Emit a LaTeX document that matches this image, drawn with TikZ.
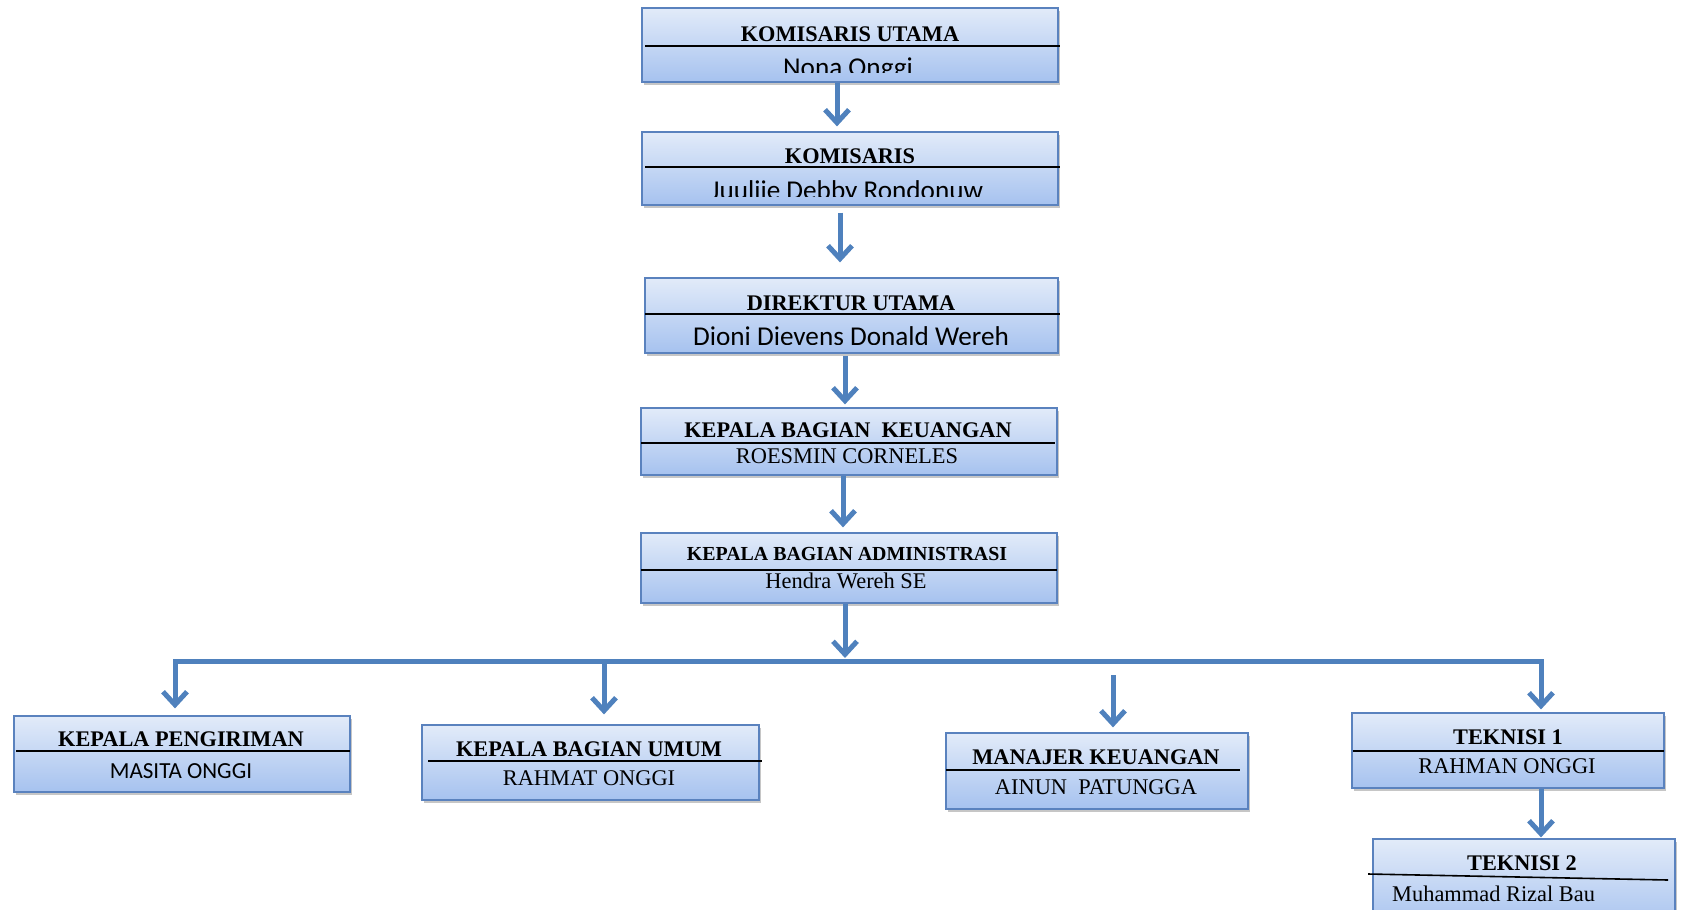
\documentclass[tikz,border=0pt]{standalone}
\usepackage{fontspec}
\setmainfont{Liberation Serif}
\newfontfamily\calibri{Carlito}
\usetikzlibrary{arrows.meta,fit,shadows}
\definecolor{garis}{HTML}{5A82BE}
\definecolor{atas}{HTML}{E2EBF9}
\definecolor{bawah}{HTML}{A6C2EF}
\definecolor{biru}{HTML}{4F81BD}
\tikzset{
	kotak/.style={draw=garis, line width=1.2pt, top color=atas, bottom color=bawah, inner sep=0pt,
		drop shadow={shadow xshift=1.5pt, shadow yshift=-3pt, fill=black!50, opacity=.45}},
	judul/.style={anchor=base, inner sep=0pt, font=\bfseries\fontsize{22.3}{24}\selectfont},
	nama/.style={anchor=base, inner sep=0pt, font=\fontsize{22.4}{24}\selectfont},
	namasans/.style={anchor=base, inner sep=0pt, font=\calibri\fontsize{27.2}{29}\selectfont},
	pemisah/.style={draw=black, line width=1.6pt},
	batang/.style={draw=biru, line width=5pt, line cap=rect},
	panah/.style={draw=biru, line width=5pt, -{Straight Barb[length=13pt, width=24pt]}}
}
\begin{document}
\begin{tikzpicture}[x=1pt, y=-1pt]
		\clip (0,0) rectangle (1681,910);
		\useasboundingbox (0,0) rectangle (1681,910);
		% kotak jabatan
		\node[kotak, fit={(642,8) (1058,82)}] (ku) {};
		\node[kotak, fit={(642,132) (1058,205)}] (k) {};
		\node[kotak, fit={(645,278) (1058,353)}] (du) {};
		\node[kotak, fit={(641,408) (1057,475)}] (kbk) {};
		\node[kotak, fit={(641,533) (1057,603)}] (kba) {};
		\node[kotak, fit={(14,716) (350,792)}] (kp) {};
		\node[kotak, fit={(422,725) (759,800)}] (kbu) {};
		\node[kotak, fit={(946,733) (1248,809)}] (mk) {};
		\node[kotak, fit={(1352,713) (1664,788)}] (t1) {};
		\node[kotak, fit={(1373,839) (1675,930)}] (t2) {};
		% garis pemisah
		\draw[pemisah] (645,46) -- (1060,46);
		\draw[pemisah] (645,167) -- (1060,167);
		\draw[pemisah] (645,314) -- (1060,314);
		\draw[pemisah] (641,443) -- (1055,443);
		\draw[pemisah] (641,570) -- (1057,570);
		\draw[pemisah] (16,751) -- (350,751);
		\draw[pemisah] (428,761) -- (762,761);
		\draw[pemisah] (946,770) -- (1240,770);
		\draw[pemisah] (1353,751) -- (1664,751);
		\draw[pemisah] (1368,874) -- (1668,880);
		% teks
		\node[judul] (ku-j) at (850,41) {KOMISARIS UTAMA};
		\node[judul] (k-j) at (850,163) {KOMISARIS};
		\node[judul] (du-j) at (851,310) {DIREKTUR UTAMA};
		\node[judul] (kbk-j) at (848,437) {KEPALA BAGIAN\ \ KEUANGAN};
		\node[judul, font=\bfseries\fontsize{19.9}{22}\selectfont] (kba-j) at (847,560) {KEPALA BAGIAN ADMINISTRASI};
		\node[judul] (kp-j) at (181,746) {KEPALA PENGIRIMAN};
		\node[judul] (kbu-j) at (589,756) {KEPALA BAGIAN UMUM};
		\node[judul] (mk-j) at (1096,764) {MANAJER KEUANGAN};
		\node[judul] (t1-j) at (1508,744) {TEKNISI 1};
		\node[judul] (t2-j) at (1522,870) {TEKNISI 2};
		\begin{scope}
			\clip (642,48) rectangle (1058,72);
			\node[namasans] (ku-n) at (848,76) {Nona Onggi};
		\end{scope}
		\begin{scope}
			\clip (642,169) rectangle (1058,196.5);
			\node[namasans] (k-n) at (847,199.5) {Juuliie Debby Rondonuw};
		\end{scope}
		\begin{scope}
			\clip (645,316) rectangle (1058,344.5);
			\node[namasans] (du-n) at (851,345) {Dioni Dievens Donald Wereh};
		\end{scope}
		\node[nama] (kbk-n) at (847,463) {ROESMIN CORNELES};
		\node[nama] (kba-n) at (846,588) {Hendra Wereh SE};
		\node[namasans, font=\calibri\fontsize{23}{25}\selectfont] (kp-n) at (181,778) {MASITA ONGGI};
		\node[nama] (kbu-n) at (589,785) {RAHMAT ONGGI};
		\node[nama] (mk-n) at (1096,794) {AINUN\ \ PATUNGGA};
		\node[nama] (t1-n) at (1507,773) {RAHMAN ONGGI};
		\node[nama, anchor=base west] (t2-n) at (1392,901) {Muhammad Rizal Bau};
		% panah
		\coordinate (bar-l) at (175,661);
		\coordinate (bar-r) at (1541,661);
		\coordinate (bar-u) at (604,661);
		\coordinate (bar-m) at (1113,675);
		\draw[panah, shorten >=5pt] (837,0 |- ku.south) -- (837,0 |- k.north);
		\draw[panah, shorten <=7pt, shorten >=15pt] (840,0 |- k.south) -- (840,0 |- du.north);
		\draw[panah, shorten <=2pt, shorten >=3pt] (845,0 |- du.south) -- (845,0 |- kbk.north);
		\draw[panah, shorten >=5pt] (843,0 |- kbk.south) -- (843,0 |- kba.north);
		\draw[panah, shorten >=3pt] (845,0 |- kba.south) -- (845,0 |- bar-l);
		\draw[batang] (bar-l) -- (bar-r);
		\draw[panah, shorten >=7pt] (bar-l) -- (bar-l |- kp.north);
		\draw[panah, shorten >=10pt] (bar-u) -- (bar-u |- kbu.north);
		\draw[panah, shorten >=5pt] (bar-m) -- (bar-m |- mk.north);
		\draw[panah, shorten >=3pt] (bar-r) -- (bar-r |- t1.north);
		\draw[panah, shorten >=1pt] (bar-r |- t1.south) -- (bar-r |- t2.north);
	\end{tikzpicture}
\end{document}
